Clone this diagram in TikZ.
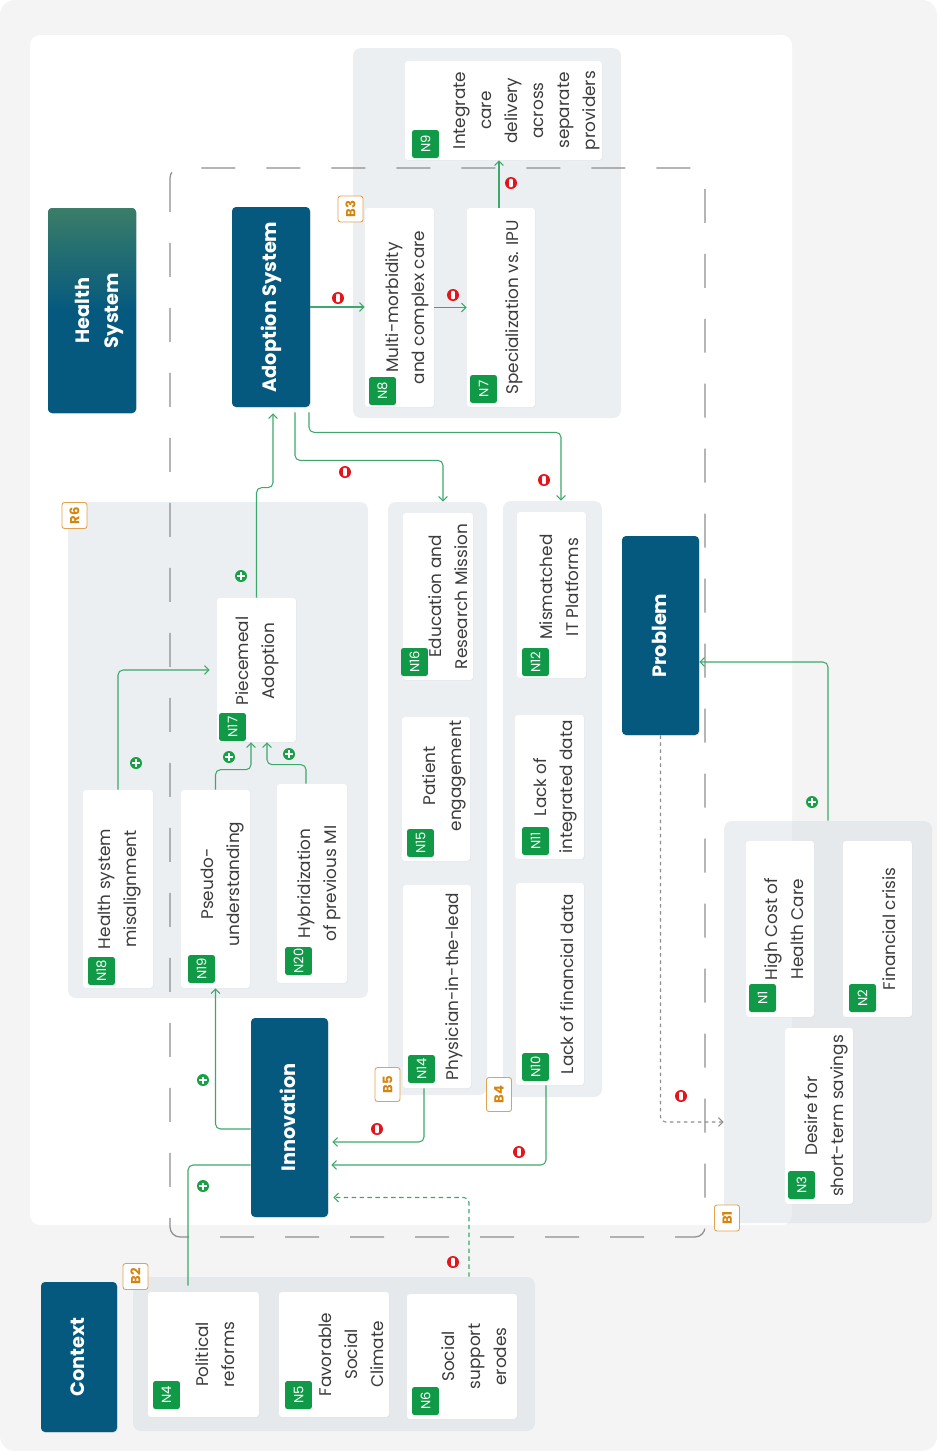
\documentclass[tikz,border=0pt]{standalone}
\usepackage{fontspec}
\setmainfont{Poppins}
\usetikzlibrary{arrows.meta,fit,shadows}
\definecolor{bg}{HTML}{F4F4F4}
\definecolor{dblue}{HTML}{05597F}
\definecolor{hsgreen}{HTML}{3A7D68}
\definecolor{grp}{HTML}{D3DCE3}
\definecolor{txt}{HTML}{3C3C3C}
\definecolor{bgreen}{HTML}{109A47}
\definecolor{lk}{HTML}{3DA86C}
\definecolor{mred}{HTML}{E5141B}
\definecolor{mgreen}{HTML}{17A046}
\definecolor{tagln}{HTML}{E3A24E}
\definecolor{tagtx}{HTML}{D4850F}
\definecolor{bd}{HTML}{8E8E8E}
\newcommand{\vlines}[2][0pt]{\hspace*{#1}\raisebox{-\height}{\rotatebox{90}{\begin{tabular}{@{}c@{}}#2\end{tabular}}}\hspace*{-#1}}

\begin{document}
\begin{tikzpicture}[x=0.02cm,y=-0.02cm,
  panel/.style={fill=grp,fill opacity=.45,rounded corners=0.16cm,inner sep=0pt},
  card/.style={fill=white,rounded corners=0.06cm,inner sep=0pt,text=txt,
    font=\fontsize{9.6}{14.8}\selectfont,
    drop shadow={opacity=.08,shadow xshift=0.4pt,shadow yshift=-0.4pt}},
  head/.style={fill=dblue,rounded corners=0.08cm,inner sep=0pt,text=white,
    font=\bfseries\fontsize{11}{16.4}\selectfont,
    drop shadow={opacity=.12,shadow xshift=0.5pt,shadow yshift=-0.5pt}},
  badge/.style={anchor=south west,fill=bgreen,rounded corners=0.05cm,text=white,
    minimum width=0.54cm,minimum height=0.56cm,inner sep=0pt,font=\fontsize{7.5}{7.5}\selectfont},
  tagbox/.style={fill=white,draw=tagln,line width=0.5pt,rounded corners=0.05cm,text=tagtx,
    minimum width=0.5cm,minimum height=0.52cm,inner sep=0pt,font=\bfseries\fontsize{7.5}{7.5}\selectfont},
  wire/.style={draw=lk,line width=0.6pt,rounded corners=0.1cm},
  link/.style={wire,-{Straight Barb[length=2.5pt,width=5pt]}},
  minusmark/.style={circle,fill=mred,minimum size=0.24cm,inner sep=0pt,
    path picture={\draw[white,line width=1.9pt,line cap=round]
      ([yshift=-1.5pt]path picture bounding box.center) -- ([yshift=1.5pt]path picture bounding box.center);}},
  plusmark/.style={circle,fill=mgreen,minimum size=0.24cm,inner sep=0pt,
    path picture={\draw[white,line width=1.1pt]
      ([yshift=-2pt]path picture bounding box.center) -- ([yshift=2pt]path picture bounding box.center)
      ([xshift=-2pt]path picture bounding box.center) -- ([xshift=2pt]path picture bounding box.center);}}]
\fill[bg,rounded corners=0.3cm] (0,0) rectangle (937,1451);
\useasboundingbox (0,0) rectangle (937,1451);
\fill[white,rounded corners=0.2cm] (30,35) rectangle (792,1225);

\node[panel,fit={(353,48) (621,418)}] (g3) {};
\node[panel,fit={(68,502) (368,998)}] (g6) {};
\node[panel,fit={(388,502) (487,1095)}] (g5) {};
\node[panel,fit={(503,501) (602,1097)}] (g4) {};
\node[panel,fit={(724,821) (932,1223)}] (g1) {};
\node[panel,fit={(133,1277) (535,1431)}] (g2) {};

\draw[bd,line width=0.7pt,dash pattern=on 0.68cm off 0.62cm,rounded corners=0.2cm] (170,168) rectangle (705,1237);

\node[head,top color=hsgreen,bottom color=dblue,middle color=dblue,fit={(48,208) (136,413)}] (hs) {\vlines[0.12cm]{Health\\System}};
\node[head,fit={(232,207) (310,407)}] (adopt) {\vlines{Adoption System}};
\node[head,fit={(251,1018) (328,1217)}] (innov) {\vlines{Innovation}};
\node[head,fit={(622,536) (699,735)}] (prob) {\vlines{Problem}};
\node[head,fit={(41,1282) (117,1432)}] (ctx) {\vlines{Context}};

\node[card,fit={(405,61) (602,160)}] (n9) {\vlines[0.43cm]{Integrate\\care\\delivery\\across\\separate\\providers}};
\node[card,fit={(365,208) (434,407)}] (n8) {\vlines[0.14cm]{Multi-morbidity\\and complex care}};
\node[card,fit={(467,208) (535,407)}] (n7) {\vlines[0.24cm]{Specialization vs. IPU}};
\node[card,fit={(217,598) (296,742)}] (n17) {\vlines{\hspace*{0.36cm}Piecemeal\\\hspace*{0.36cm}Adoption}};
\node[card,fit={(83,790) (153,988)}] (n18) {\vlines{Health system\\misalignment}};
\node[card,fit={(181,790) (250,988)}] (n19) {\vlines[0.11cm]{\hspace*{0.2cm}Pseudo-\\\hspace*{0.2cm}understanding}};
\node[card,fit={(277,784) (347,983)}] (n20) {\vlines[0.12cm]{Hybridization\\of previous MI}};
\node[card,fit={(403,513) (473,680)}] (n16) {\vlines[0.22cm]{Education and\\Research Mission}};
\node[card,fit={(402,717) (470,861)}] (n15) {\vlines[0.14cm]{\hspace*{0.52cm}Patient\\\hspace*{0.52cm}engagement}};
\node[card,fit={(403,885) (471,1088)}] (n14) {\vlines[0.32cm]{Physician-in-the-lead}};
\node[card,fit={(517,512) (586,678)}] (n12) {\vlines[0.17cm]{\hspace*{0.32cm}Mismatched\\\hspace*{0.32cm}IT Platforms}};
\node[card,fit={(515,715) (584,859)}] (n11) {\vlines[0.09cm]{Lack of\\integrated data}};
\node[card,fit={(516,883) (584,1085)}] (n10) {\vlines[0.36cm]{Lack of financial data}};
\node[card,fit={(746,841) (814,1017)}] (n1) {\vlines[0.1cm]{High Cost of\\Health Care}};
\node[card,fit={(843,841) (912,1017)}] (n2) {\vlines[0.25cm]{Financial crisis}};
\node[card,fit={(785,1028) (853,1204)}] (n3) {\vlines[0.12cm]{Desire for\\short-term savings}};
\node[card,fit={(148,1292) (259,1417)}] (n4) {\vlines[0.25cm]{Political\\reforms}};
\node[card,fit={(279,1292) (389,1417)}] (n5) {\vlines[0.36cm]{Favorable\\Social\\Climate}};
\node[card,fit={(407,1294) (517,1419)}] (n6) {\vlines[0.26cm]{Social\\support\\erodes}};

\node[badge] (b9) at ([shift={(0.14cm,0.04cm)}]n9.south west) {\rotatebox{90}{N9}};
\node[badge] (b8) at ([shift={(0.08cm,0.04cm)}]n8.south west) {\rotatebox{90}{N8}};
\node[badge] (b7) at ([shift={(0.06cm,0.08cm)}]n7.south west) {\rotatebox{90}{N7}};
\node[badge] (b17) at ([shift={(0.04cm,0.02cm)}]n17.south west) {\rotatebox{90}{N17}};
\node[badge] (b18) at ([shift={(0.1cm,0.06cm)}]n18.south west) {\rotatebox{90}{N18}};
\node[badge] (b19) at ([shift={(0.14cm,0.1cm)}]n19.south west) {\rotatebox{90}{N19}};
\node[badge] (b20) at ([shift={(0.16cm,0.16cm)}]n20.south west) {\rotatebox{90}{N20}};
\node[badge] (b16) at ([shift={(-0.04cm,0.08cm)}]n16.south west) {\rotatebox{90}{N16}};
\node[badge] (b15) at ([shift={(0.1cm,0.08cm)}]n15.south west) {\rotatebox{90}{N15}};
\node[badge] (b14) at ([shift={(0.1cm,0.1cm)}]n14.south west) {\rotatebox{90}{N14}};
\node[badge] (b12) at ([shift={(0.1cm,0.04cm)}]n12.south west) {\rotatebox{90}{N12}};
\node[badge] (b11) at ([shift={(0.14cm,0.08cm)}]n11.south west) {\rotatebox{90}{N11}};
\node[badge] (b10) at ([shift={(0.12cm,0.08cm)}]n10.south west) {\rotatebox{90}{N10}};
\node[badge] (b1) at ([shift={(0.06cm,0.1cm)}]n1.south west) {\rotatebox{90}{N1}};
\node[badge] (b2) at ([shift={(0.12cm,0.1cm)}]n2.south west) {\rotatebox{90}{N2}};
\node[badge] (b3) at ([shift={(0.06cm,0.1cm)}]n3.south west) {\rotatebox{90}{N3}};
\node[badge] (b4) at ([shift={(0.1cm,0.16cm)}]n4.south west) {\rotatebox{90}{N4}};
\node[badge] (b5) at ([shift={(0.12cm,0.16cm)}]n5.south west) {\rotatebox{90}{N5}};
\node[badge] (b6) at ([shift={(0.1cm,0.08cm)}]n6.south west) {\rotatebox{90}{N6}};

\node[tagbox] (t3) at (350.5,209) {\rotatebox{90}{B3}};
\node[tagbox] (t6) at (74.5,515.5) {\rotatebox{90}{R6}};
\node[tagbox,minimum height=0.68cm] (t5) at (387.5,1084.5) {\rotatebox{90}{B5}};
\node[tagbox,minimum height=0.68cm] (t4) at (499,1094.5) {\rotatebox{90}{B4}};
\node[tagbox] (t1) at (727,1218) {\rotatebox{90}{B1}};
\node[tagbox] (t2) at (135.5,1276.5) {\rotatebox{90}{B2}};

\draw[link] (adopt.east) -- (adopt.east -| n8.west);
\draw[link] (n8.east) -- (n8.east -| n7.west);
\draw[link] ([xshift=-0.04cm]n7.north) -- ([xshift=-0.04cm]n7.north |- n9.south);
\draw[link] ([xshift=0.48cm,yshift=-0.1cm]adopt.south) -- ++(0,48) -| ([xshift=0.11cm]g5.north);
\draw[link] ([xshift=0.76cm,yshift=-0.1cm]adopt.south) -- ++(0,20) -| ([xshift=0.17cm]g4.north);
\draw[link] (n17.north) -- ++(0,-110) -| ([xshift=0.04cm,yshift=-0.12cm]adopt.south);
\draw[link] (n18.north) |- ([xshift=-0.14cm]n17.west);
\draw[link] (n19.north) -- ++(0,-20) -| ([xshift=-0.11cm]n17.south);
\draw[link] ([xshift=-0.12cm]n20.north) -- ++(0,-19) -| ([xshift=0.21cm]n17.south);
\draw[link] ([yshift=-0.23cm]innov.west) -| (n19.south);
\draw[wire] ([xshift=-0.31cm,yshift=0.12cm]n4.north) |- ([yshift=-0.95cm]innov.west);
\draw[link] ([xshift=-0.26cm]n14.south) |- ([xshift=0.08cm,yshift=-0.49cm]innov.east);
\draw[link] ([xshift=-0.08cm]n10.south) |- ([xshift=0.06cm,yshift=-0.95cm]innov.east);
\draw[link,dash pattern=on 2.5pt off 2pt] ([xshift=0.14cm,yshift=0.34cm]n6.north) |- ([xshift=0.1cm,yshift=-1.6cm]innov.east);
\draw[link] (g1.north) |- ([yshift=-0.53cm]prob.east);
\draw[link,draw=bd,dash pattern=on 2pt off 2pt] (prob.south) |- ([yshift=-2cm]g1.west);

\node[minusmark] (m1) at (338,298) {};
\node[minusmark] (m2) at (453,295) {};
\node[minusmark] (m3) at (511,183) {};
\node[minusmark] (m4) at (345,472) {};
\node[minusmark] (m5) at (544,480) {};
\node[minusmark] (m6) at (377,1129) {};
\node[minusmark] (m7) at (519,1152) {};
\node[minusmark] (m8) at (453,1262) {};
\node[minusmark] (m9) at (681,1096) {};
\node[plusmark] (p1) at (241,576) {};
\node[plusmark] (p2) at (136,763) {};
\node[plusmark] (p3) at (229,757) {};
\node[plusmark] (p4) at (289,754) {};
\node[plusmark] (p5) at (203,1080) {};
\node[plusmark] (p6) at (203,1186) {};
\node[plusmark] (p7) at (812,802) {};
\end{tikzpicture}
\end{document}
